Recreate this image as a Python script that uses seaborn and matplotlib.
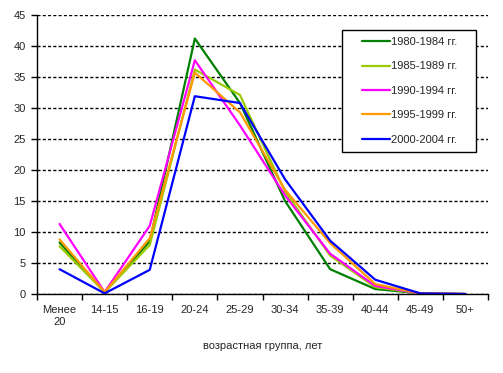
import pandas as pd
import matplotlib
matplotlib.use("Agg")
import matplotlib.pyplot as plt
from matplotlib.patches import Rectangle
import seaborn as sns

# age groups (x axis)
groups = ["Менее\n20", "14-15", "16-19", "20-24", "25-29",
          "30-34", "35-39", "40-44", "45-49", "50+"]

# share by age group, %
p1980 = [8.3, 0.3, 8.5, 41.2, 30.8, 15.0, 4.0, 0.8, 0.1, 0.0]
p1985 = [7.7, 0.3, 7.9, 36.2, 32.1, 16.5, 6.2, 1.1, 0.1, 0.0]
p1990 = [11.3, 0.3, 11.0, 37.7, 27.2, 15.9, 6.5, 1.3, 0.1, 0.0]
p1995 = [8.8, 0.3, 9.0, 35.7, 29.3, 16.8, 8.2, 1.6, 0.1, 0.0]
p2000 = [4.0, 0.1, 3.9, 31.9, 30.8, 18.5, 8.6, 2.3, 0.1, 0.0]

periods = ["1980-1984 гг.", "1985-1989 гг.", "1990-1994 гг.",
           "1995-1999 гг.", "2000-2004 гг."]
colors = ["#008000", "#99CC00", "#FF00FF", "#FF9900", "#0000FF"]

rows = []
for name, vals in zip(periods, [p1980, p1985, p1990, p1995, p2000]):
    for g, v in zip(groups, vals):
        rows.append({"group": g, "value": v, "period": name})
df = pd.DataFrame(rows)

sns.set_style("white")
plt.rcParams["font.family"] = ["Liberation Sans", "DejaVu Sans"]

W, H = 503, 373
fig = plt.figure(figsize=(W / 100, H / 100), dpi=100)
ax = fig.add_axes([37 / W, 1 - 294 / H, 451 / W, 279 / H])

sns.lineplot(data=df, x="group", y="value", hue="period",
             hue_order=periods, palette=colors, linewidth=1.6,
             sort=False, ax=ax)

ax.set_xlim(-0.5, len(groups) - 0.5)
ax.set_ylim(0, 45)
ax.set_yticks(range(0, 50, 5))
ax.yaxis.grid(True, color="black", linestyle=(0, (2.2, 1.6)), linewidth=1)
ax.xaxis.grid(False)

# tick marks between categories, labels in the middle
ax.set_xticks([i - 0.5 for i in range(len(groups) + 1)])
ax.set_xticklabels([])
ax.set_xticks(range(len(groups)), minor=True)
ax.set_xticklabels(groups, minor=True, fontsize=8)
ax.tick_params(axis="x", which="major", direction="out", length=4,
               color="black", width=1, bottom=True)
ax.tick_params(axis="x", which="minor", length=0, pad=8)
ax.tick_params(axis="y", direction="out", length=4, color="black",
               width=1, left=True, labelsize=8, pad=4)

for side in ["top", "right"]:
    ax.spines[side].set_visible(False)
for side in ["left", "bottom"]:
    ax.spines[side].set_color("black")
    ax.spines[side].set_linewidth(1)

ax.set_ylabel("")
ax.set_xlabel("возрастная группа, лет", fontsize=8, labelpad=10)

# legend box drawn separately, entries placed inside it
ax.add_patch(Rectangle((342 / W, 1 - 152 / H), 134 / W, 122 / H,
                       transform=fig.transFigure, facecolor="white",
                       edgecolor="black", linewidth=1, zorder=5,
                       clip_on=False))
leg = ax.legend(loc="upper left", bbox_to_anchor=(362 / W, 1 - 37 / H),
                bbox_transform=fig.transFigure, frameon=False,
                fontsize=8, handlelength=2.5, handletextpad=0.1,
                labelspacing=1.3, borderpad=0, borderaxespad=0)
leg.set_zorder(6)

fig.savefig("out.png", dpi=100)
